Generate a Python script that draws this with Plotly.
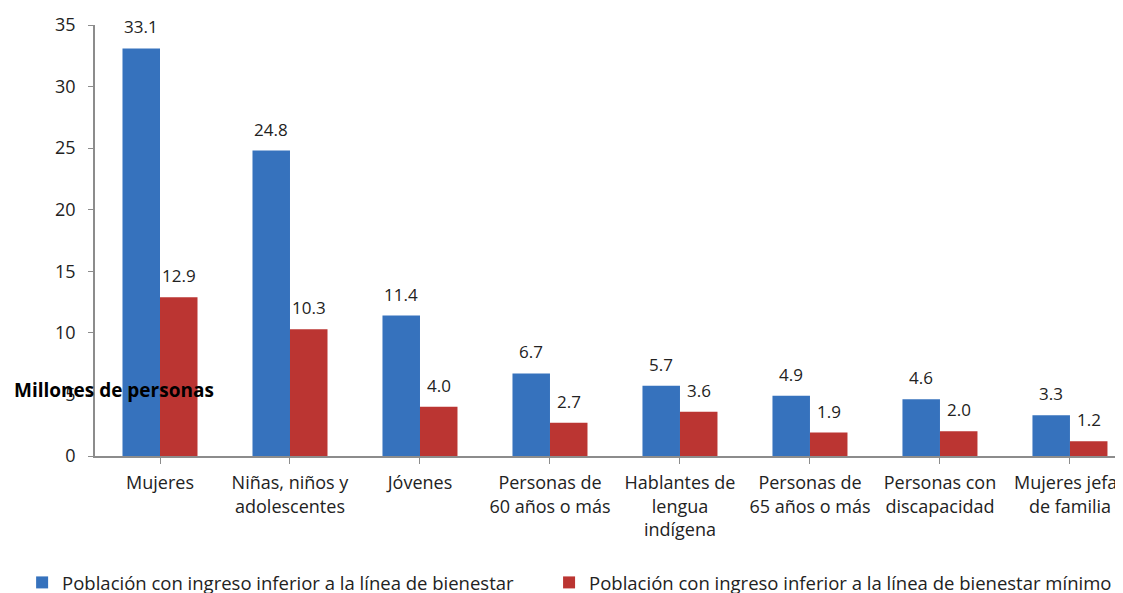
import plotly.graph_objects as go

categories = ["Mujeres", "Niñas, niños y<br>adolescentes", "Jóvenes", "Personas de<br>60 años o más",
              "Hablantes de<br>lengua<br>indígena", "Personas de<br>65 años o más",
              "Personas con<br>discapacidad", "Mujeres jefas<br>de familia"]
bienestar = [33.1, 24.8, 11.4, 6.7, 5.7, 4.9, 4.6, 3.3]
bienestar_minimo = [12.9, 10.3, 4.0, 2.7, 3.6, 1.9, 2.0, 1.2]
series_names = ["Población con ingreso inferior a la línea de bienestar",
                "Población con ingreso inferior a la línea de bienestar mínimo"]
y_ticks = [0, 5, 10, 15, 20, 25, 30, 35]
colors = ["#3672bd", "#bb3532"]

FONT = "'Open Sans', sans-serif"
x = list(range(len(categories)))

fig = go.Figure()
for vals, name, col, lg in [(bienestar, series_names[0], colors[0], "legend"),
                            (bienestar_minimo, series_names[1], colors[1], "legend2")]:
    fig.add_trace(go.Bar(x=x, y=vals, name=name, legend=lg,
                         marker=dict(color=col, line=dict(width=0))))

# value labels above bars, derived from the data arrays
labels = []
for vals, shift in [(bienestar, -19), (bienestar_minimo, 19)]:
    for xi, v in zip(x, vals):
        labels.append(dict(text=f"{v:.1f}", x=xi, y=v, xref="x", yref="y",
                           xshift=shift, yshift=8, xanchor="center", yanchor="bottom",
                           showarrow=False, font=dict(size=17, color="#222", family=FONT)))

W, H = 1115, 585
L = 87
legend_common = dict(orientation="h", xanchor="left", y=-0.2944, yanchor="middle",
                     font=dict(size=18.5, color="#222", family=FONT), itemclick=False)
fig.update_layout(
    width=W, height=H,
    margin=dict(l=L, r=0, t=17, b=137, autoexpand=False),
    paper_bgcolor="white", plot_bgcolor="white",
    barmode="group", bargap=0.423, bargroupgap=0,
    font=dict(family=FONT, size=17, color="#222"),
    showlegend=True,
    legend=dict(x=-0.0709, **legend_common),
    legend2=dict(x=0.4417, **legend_common),
    xaxis=dict(range=[-0.5, 7.408], tickmode="array", tickvals=x, ticktext=categories,
               showline=True, linecolor="#8c8c8c", linewidth=1.5, automargin=False,
               ticks="outside", tickson="boundaries", ticklen=6, tickcolor="#8c8c8c",
               ticklabelstandoff=4, ticklabeloverflow="allow",
               showgrid=False, zeroline=False, tickfont=dict(size=18, color="#222")),
    yaxis=dict(range=[0, 35], tickvals=y_ticks, showline=True, linecolor="#8c8c8c", linewidth=1.5,
               ticks="outside", ticklen=5, tickcolor="#8c8c8c", showgrid=False, zeroline=False,
               automargin=False, ticklabeloverflow="allow",
               ticklabelstandoff=9, tickfont=dict(size=18, color="#222")),
    annotations=labels + [
        dict(text="<b>Millones de personas</b>", x=(106 - L) / (W - L), xref="paper",
             xanchor="center", y=5.4, yref="y", yanchor="middle", showarrow=False,
             font=dict(size=19, color="black", family=FONT)),
        dict(text="<b>población</b>", x=0.425, xref="paper", xanchor="center",
             y=1.042, yref="paper", yanchor="bottom", showarrow=False,
             font=dict(size=30, color="black", family="Lato, sans-serif")),
    ],
)

fig.write_html("out.html")
